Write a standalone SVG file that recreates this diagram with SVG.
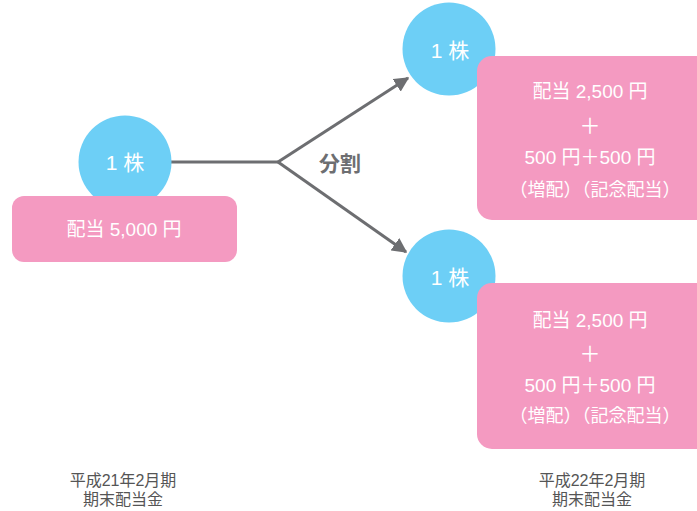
<svg xmlns="http://www.w3.org/2000/svg" width="697" height="511" viewBox="0 0 697 511">
<defs>
<style>
.c{fill:#6dcff6}
.b{fill:#f49ac1}
.t{fill:#fff;font-family:"Liberation Sans","Noto Sans CJK JP",sans-serif;text-anchor:middle;dominant-baseline:central}
.g{fill:#555;font-family:"Liberation Sans","Noto Sans CJK JP",sans-serif;text-anchor:middle;font-size:16px}
.l{stroke:#6d6e71;stroke-width:3;fill:none}
</style>
<marker id="ah" viewBox="0 0 10 10" refX="9" refY="5" markerWidth="5" markerHeight="5" markerUnits="strokeWidth" orient="auto">
<path d="M0,0 L10,5 L0,10 z" fill="#6d6e71"/>
</marker>
</defs>
<rect width="697" height="511" fill="#fff"/>
<g id="connectors">
<path class="l" d="M171,162 H278"/>
<path class="l" d="M278,162 L408,78" marker-end="url(#ah)"/>
<path class="l" d="M278,162 L406,252" marker-end="url(#ah)"/>
<text x="340" y="163" class="t" style="fill:#6d6e71;font-size:21px;font-weight:600">分割</text>
</g>
<g id="left">
<circle class="c" cx="125" cy="162" r="46.5"/>
<text x="125" y="162" class="t" font-size="21">1 株</text>
<rect class="b" x="12" y="196" width="225" height="66" rx="12"/>
<text x="124" y="229" class="t" font-size="19">配当 5,000 円</text>
</g>
<g id="top">
<circle class="c" cx="449" cy="49" r="46.5"/>
<text x="450" y="50" class="t" font-size="21">1 株</text>
<rect class="b" x="477" y="56" width="240" height="164" rx="15"/>
<text x="590" y="91" class="t" font-size="19">配当 2,500 円</text>
<text x="590" y="125" class="t" font-size="21">＋</text>
<text x="590" y="157" class="t" font-size="19">500 円＋500 円</text>
<text x="595" y="190" class="t" font-size="18">（増配）（記念配当）</text>
</g>
<g id="bottom">
<circle class="c" cx="449" cy="276" r="46.5"/>
<text x="450" y="277" class="t" font-size="21">1 株</text>
<rect class="b" x="477" y="283" width="240" height="166" rx="15"/>
<text x="590" y="320" class="t" font-size="19">配当 2,500 円</text>
<text x="590" y="353" class="t" font-size="21">＋</text>
<text x="590" y="385" class="t" font-size="19">500 円＋500 円</text>
<text x="595" y="416" class="t" font-size="18">（増配）（記念配当）</text>
</g>
<g id="labels">
<text x="123" y="486" class="g">平成21年2月期</text>
<text x="123" y="505" class="g">期末配当金</text>
<text x="592" y="486" class="g">平成22年2月期</text>
<text x="592" y="505" class="g">期末配当金</text>
</g>
</svg>
